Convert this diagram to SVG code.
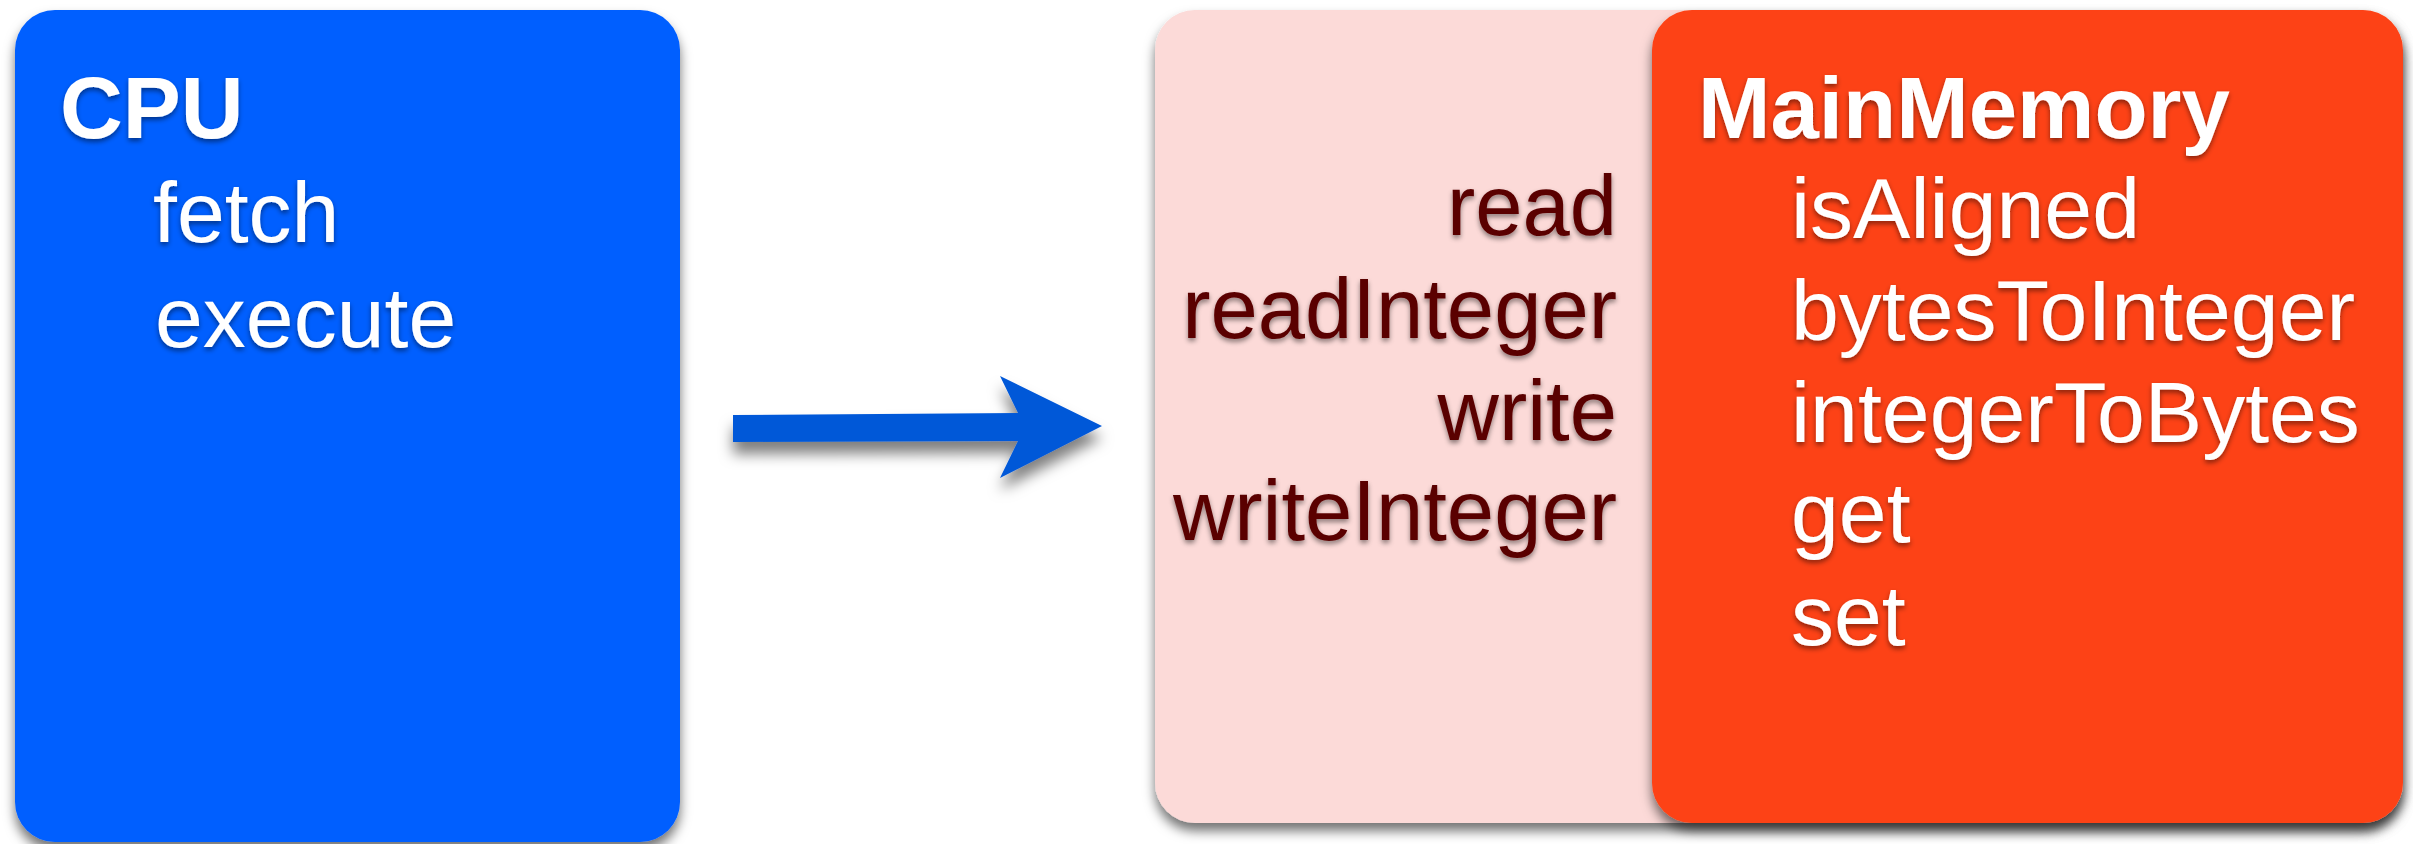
<svg xmlns="http://www.w3.org/2000/svg" width="2413" height="844" viewBox="0 0 2413 844">
<defs>
<filter id="boxShadow" x="-10%" y="-10%" width="120%" height="125%">
<feDropShadow dx="0" dy="8" stdDeviation="6" flood-color="#000" flood-opacity="0.55"/>
</filter>
<filter id="arrowShadow" x="-10%" y="-30%" width="120%" height="180%">
<feDropShadow dx="0" dy="12" stdDeviation="7" flood-color="#000" flood-opacity="0.5"/>
</filter>
<filter id="textShadow" x="-5%" y="-20%" width="110%" height="150%">
<feDropShadow dx="0" dy="3" stdDeviation="2.5" flood-color="#000" flood-opacity="0.45"/>
</filter>
</defs>
<style>
text { font-family: "Liberation Sans", Arial, Helvetica, sans-serif; font-size: 86px; }
.title { font-weight: bold; fill: #ffffff; font-size: 87px; }
.item { fill: #ffffff; }
.iface { fill: #5a0500; text-anchor: end; font-size: 85px; }
.txt { filter: url(#textShadow); }
</style>
<rect width="2413" height="844" fill="#ffffff"/>

<g id="cpu">
<rect x="15" y="10" width="665" height="832" rx="40" ry="40" fill="#005fff" filter="url(#boxShadow)"/>
<g class="txt">
<text class="title" x="60" y="138">CPU</text>
<text class="item" x="153" y="242">fetch</text>
<text class="item" x="155" y="347">execute</text>
</g>
</g>

<g id="interface">
<rect x="1155" y="10" width="1248" height="813" rx="40" ry="40" fill="#fcdad8" filter="url(#boxShadow)"/>
<g class="txt">
<text class="iface" x="1617" y="235">read</text>
<text class="iface" x="1617" y="338">readInteger</text>
<text class="iface" x="1617" y="440">write</text>
<text class="iface" x="1617" y="540">writeInteger</text>
</g>
</g>

<g id="mainmemory">
<rect x="1652" y="10" width="751" height="813" rx="40" ry="40" fill="#fd4215" filter="url(#boxShadow)"/>
<g class="txt">
<text class="title" x="1698" y="138">MainMemory</text>
<text class="item" x="1791" y="238">isAligned</text>
<text class="item" x="1791" y="340">bytesToInteger</text>
<text class="item" x="1791" y="442">integerToBytes</text>
<text class="item" x="1791" y="542">get</text>
<text class="item" x="1791" y="645">set</text>
</g>
</g>

<g id="connectors">
<polygon points="733,415 1018,413 1000,376 1102,426 1000,478 1018,441 733,442" fill="#0058d8" filter="url(#arrowShadow)"/>
</g>
</svg>
